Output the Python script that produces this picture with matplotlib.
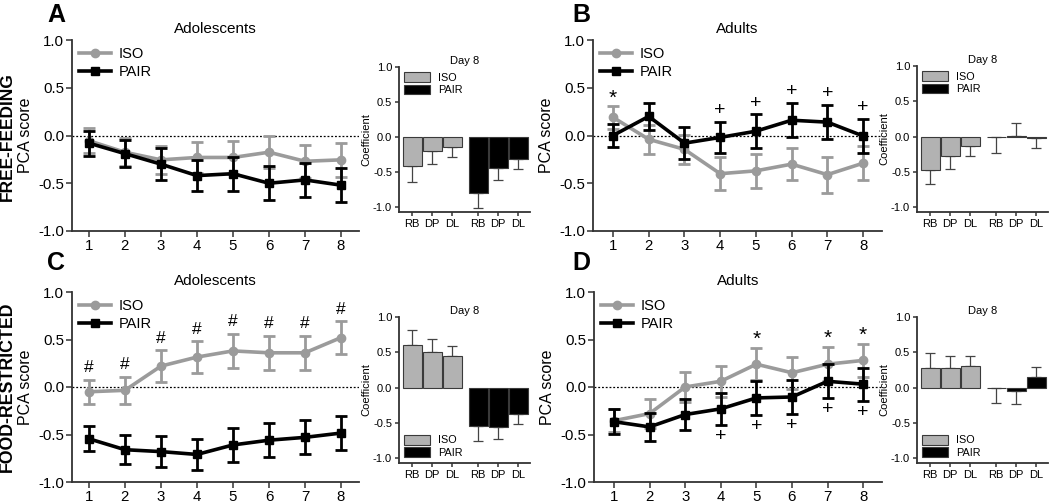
import matplotlib
matplotlib.use("Agg")
import matplotlib.pyplot as plt
from matplotlib.patches import Patch
from matplotlib.lines import Line2D
import numpy as np

plt.rcParams["font.family"] = ["Liberation Sans", "DejaVu Sans"]
plt.rcParams["axes.unicode_minus"] = False

days = [1, 2, 3, 4, 5, 6, 7, 8]
regions = ["RB", "DP", "DL"]

# panel A: free-feeding adolescents
iso_a = [-0.055, -0.175, -0.255, -0.23, -0.23, -0.175, -0.27, -0.255]
iso_a_sem = [0.13, 0.145, 0.15, 0.165, 0.17, 0.17, 0.17, 0.175]
pair_a = [-0.08, -0.19, -0.30, -0.42, -0.40, -0.50, -0.465, -0.52]
pair_a_sem = [0.13, 0.145, 0.165, 0.165, 0.18, 0.18, 0.175, 0.18]

# panel B: free-feeding adults
iso_b = [0.19, -0.04, -0.145, -0.40, -0.37, -0.30, -0.41, -0.29]
iso_b_sem = [0.12, 0.15, 0.155, 0.17, 0.18, 0.17, 0.19, 0.175]
pair_b = [0.0, 0.20, -0.08, -0.02, 0.045, 0.16, 0.14, -0.005]
pair_b_sem = [0.125, 0.145, 0.165, 0.165, 0.175, 0.18, 0.175, 0.175]

# panel C: food-restricted adolescents
iso_c = [-0.05, -0.035, 0.22, 0.315, 0.38, 0.36, 0.36, 0.52]
iso_c_sem = [0.125, 0.145, 0.165, 0.165, 0.18, 0.18, 0.18, 0.17]
pair_c = [-0.545, -0.66, -0.68, -0.71, -0.61, -0.56, -0.53, -0.485]
pair_c_sem = [0.13, 0.15, 0.165, 0.165, 0.18, 0.18, 0.18, 0.18]

# panel D: food-restricted adults
iso_d = [-0.355, -0.28, 0.0, 0.06, 0.24, 0.15, 0.24, 0.28]
iso_d_sem = [0.12, 0.15, 0.16, 0.165, 0.17, 0.17, 0.18, 0.175]
pair_d = [-0.365, -0.42, -0.29, -0.23, -0.115, -0.105, 0.06, 0.03]
pair_d_sem = [0.13, 0.15, 0.16, 0.17, 0.18, 0.175, 0.178, 0.175]

# day 8 regression coefficients (RB, DP, DL)
coef_iso_a = [-0.42, -0.20, -0.14]
coef_iso_a_err = [0.22, 0.18, 0.14]
coef_pair_a = [-0.80, -0.44, -0.31]
coef_pair_a_err = [0.22, 0.18, 0.14]

coef_iso_b = [-0.47, -0.27, -0.135]
coef_iso_b_err = [0.21, 0.19, 0.14]
coef_pair_b = [-0.01, 0.01, -0.015]
coef_pair_b_err = [0.22, 0.18, 0.145]

coef_iso_c = [0.60, 0.50, 0.44]
coef_iso_c_err = [0.22, 0.19, 0.15]
coef_pair_c = [-0.54, -0.555, -0.375]
coef_pair_c_err = [0.22, 0.18, 0.14]

coef_iso_d = [0.27, 0.27, 0.31]
coef_iso_d_err = [0.22, 0.18, 0.14]
coef_pair_d = [-0.005, -0.055, 0.15]
coef_pair_d_err = [0.22, 0.185, 0.14]

# significance marks (days)
star_iso_b = [1]
plus_pair_b = [4, 5, 6, 7, 8]
hash_iso_c = [1, 2, 3, 4, 5, 6, 7, 8]
star_iso_d = [5, 7, 8]
plus_pair_d = [4, 5, 6, 7, 8]

GREY = "#9b9b9b"
BAR_GREY = "#b2b2b2"
SPINE = "#333333"
W, H = 1050, 503

fig = plt.figure(figsize=(W / 100, H / 100), dpi=100)


def px_axes(x0, x1, y0, y1):
    return fig.add_axes([x0 / W, 1 - y1 / H, (x1 - x0) / W, (y1 - y0) / H])


def style(ax, size, pad=2):
    for s in ["top", "right"]:
        ax.spines[s].set_visible(False)
    for s in ["left", "bottom"]:
        ax.spines[s].set_color(SPINE)
        ax.spines[s].set_linewidth(1.3)
    ax.tick_params(direction="out", length=4, width=1.1, color=SPINE, labelsize=size, pad=pad)


def line_panel(ax, iso, iso_sem, pair, pair_sem, title, xlim):
    style(ax, 10.8, pad=1.5)
    ax.axhline(0, color="k", ls=(0, (1.5, 1.5)), lw=0.9, zorder=1)
    ax.errorbar(days, iso, yerr=iso_sem, color=GREY, lw=2.6, marker="o", ms=6,
                elinewidth=2.0, capsize=4, capthick=2.0, zorder=3)
    ax.errorbar(days, pair, yerr=pair_sem, color="k", lw=2.6, marker="s", ms=6,
                elinewidth=2.0, capsize=4, capthick=2.0, zorder=4)
    ax.set_xlim(*xlim)
    ax.set_ylim(-1.0, 1.0)
    ax.set_xticks(days)
    ax.set_yticks([-1.0, -0.5, 0.0, 0.5, 1.0])
    ax.set_yticklabels(["%.1f" % v for v in [-1.0, -0.5, 0.0, 0.5, 1.0]])
    ax.set_title(title, fontsize=11, pad=5)
    ax.set_ylabel("PCA score", fontsize=11.5)
    ax.yaxis.set_label_coords(-0.135, 0.5)
    handles = [Line2D([], [], color=GREY, lw=2.6, marker="o", ms=6),
               Line2D([], [], color="k", lw=2.6, marker="s", ms=6)]
    ax.legend(handles, ["ISO", "PAIR"], loc="upper left", frameon=False, fontsize=10.5,
              handlelength=2.2, handletextpad=0.5, labelspacing=0.25,
              borderaxespad=0.1, bbox_to_anchor=(0.0, 1.0))


def bar_panel(ax, iso, iso_err, pair, pair_err, legend_loc):
    style(ax, 8)
    pos_iso = np.arange(3)
    pos_pair = np.arange(3) + 3.3
    for pos, vals, errs, col in [(pos_iso, iso, iso_err, BAR_GREY), (pos_pair, pair, pair_err, "k")]:
        ax.bar(pos, vals, width=0.95, color=col, edgecolor="#3a3a3a", linewidth=0.8, zorder=2)
        vals = np.array(vals)
        errs = np.array(errs)
        lower = np.where(vals < 0, errs, 0)
        upper = np.where(vals >= 0, errs, 0)
        ax.errorbar(pos, vals, yerr=[lower, upper], fmt="none", ecolor="#444444",
                    elinewidth=0.9, capsize=3.5, capthick=0.9, zorder=1)
    ax.set_xlim(-0.65, 5.9)
    ax.set_ylim(-1.07, 1.0)
    ax.set_xticks(list(pos_iso) + list(pos_pair))
    ax.set_xticklabels(regions + regions, fontsize=8)
    ax.set_yticks([-1.0, -0.5, 0.0, 0.5, 1.0])
    ax.set_yticklabels(["%.1f" % v for v in [-1.0, -0.5, 0.0, 0.5, 1.0]])
    ax.tick_params(length=3)
    ax.set_title("Day 8", fontsize=8, pad=2)
    ax.set_ylabel("Coefficient", fontsize=8)
    ax.yaxis.set_label_coords(-0.21, 0.5)
    handles = [Patch(facecolor=BAR_GREY, edgecolor="#3a3a3a", lw=0.8),
               Patch(facecolor="k", edgecolor="#3a3a3a", lw=0.8)]
    ax.legend(handles, ["ISO", "PAIR"], loc=legend_loc, frameon=False, fontsize=7.8,
              handlelength=2.4, handleheight=1.0, handletextpad=0.7, labelspacing=0.15,
              borderaxespad=0.1)


def mark(ax, means, sems, which, symbol, offset, size=13):
    for d in which:
        i = days.index(d)
        if offset > 0:
            y = means[i] + sems[i] + offset
        else:
            y = means[i] - sems[i] + offset
        ax.text(d, y, symbol, ha="center", va="center", fontsize=size, color="k")


ax_a = px_axes(72, 359, 40, 231)
line_panel(ax_a, iso_a, iso_a_sem, pair_a, pair_a_sem, "Adolescents", (0.53, 8.5))
ax_b = px_axes(593, 882, 40, 231)
line_panel(ax_b, iso_b, iso_b_sem, pair_b, pair_b_sem, "Adults", (0.44, 8.53))
mark(ax_b, iso_b, iso_b_sem, star_iso_b, "*", 0.08, 15)
mark(ax_b, pair_b, pair_b_sem, plus_pair_b, "+", 0.12, 14)
ax_c = px_axes(72, 359, 292, 482)
line_panel(ax_c, iso_c, iso_c_sem, pair_c, pair_c_sem, "Adolescents", (0.53, 8.5))
mark(ax_c, iso_c, iso_c_sem, hash_iso_c, "#", 0.13, 12.5)
ax_d = px_axes(594, 882, 292, 482)
line_panel(ax_d, iso_d, iso_d_sem, pair_d, pair_d_sem, "Adults", (0.44, 8.53))
mark(ax_d, iso_d, iso_d_sem, star_iso_d, "*", 0.09, 15)
mark(ax_d, pair_d, pair_d_sem, plus_pair_d, "+", -0.12, 14)

bar_panel(px_axes(399, 530, 67, 212), coef_iso_a, coef_iso_a_err, coef_pair_a, coef_pair_a_err, "upper left")
bar_panel(px_axes(917, 1048, 66, 212), coef_iso_b, coef_iso_b_err, coef_pair_b, coef_pair_b_err, "upper left")
bar_panel(px_axes(399, 530, 317, 463), coef_iso_c, coef_iso_c_err, coef_pair_c, coef_pair_c_err, "lower left")
bar_panel(px_axes(917, 1048, 317, 463), coef_iso_d, coef_iso_d_err, coef_pair_d, coef_pair_d_err, "lower left")

# panel letters and row labels
for letter, x, y in [("A", 47, 3), ("B", 572, 3), ("C", 47, 251), ("D", 572, 251)]:
    fig.text(x / W, 1 - y / H, letter, fontsize=18, fontweight="bold", ha="left", va="top")
fig.text(7 / W, 1 - 137 / H, "FREE-FEEDING", rotation=90, fontsize=12.5, fontweight="bold",
         ha="center", va="center")
fig.text(7 / W, 1 - 387 / H, "FOOD-RESTRICTED", rotation=90, fontsize=12.8, fontweight="bold",
         ha="center", va="center")

fig.savefig("out.png", dpi=100)
